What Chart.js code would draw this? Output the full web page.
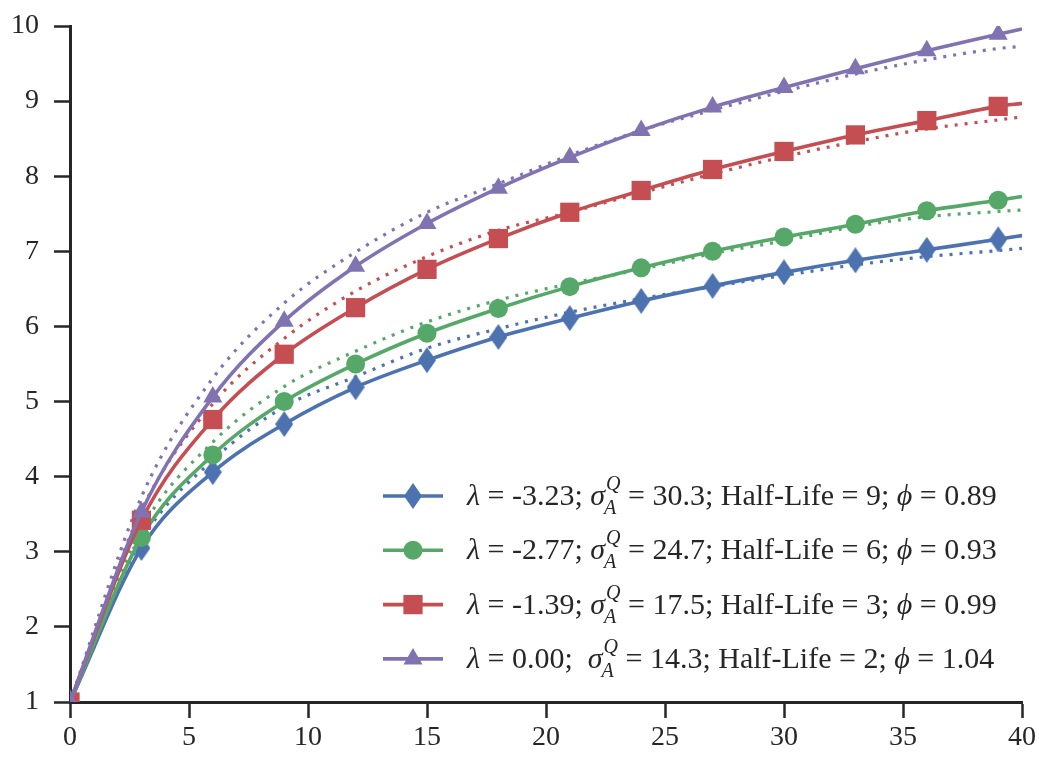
<!DOCTYPE html>
<html lang="en">
<head>
  <meta charset="UTF-8" />
  <title>Half-life curves</title>
  <script src="https://cdn.jsdelivr.net/npm/chart.js"></script>
  <style>
    html, body { margin: 0; padding: 0; background: #fff; }
    #wrap { width: 1039px; height: 759px; }
  </style>
</head>
<body>
  <div id="wrap"><canvas id="chart" width="1039" height="759"></canvas></div>

  <script>
    // horizon values (markers sit on every third one, the last point only closes the line)
    const horizons = [0, 3, 6, 9, 12, 15, 18, 21, 24, 27, 30, 33, 36, 39, 40];

    // solid lines
    const blueSolid   = [1, 3.05, 4.06, 4.70, 5.19, 5.55, 5.86, 6.11, 6.34, 6.54, 6.72, 6.88, 7.02, 7.16, 7.21];
    const greenSolid  = [1, 3.19, 4.29, 5.00, 5.50, 5.91, 6.24, 6.53, 6.78, 7.00, 7.19, 7.36, 7.54, 7.68, 7.73];
    const redSolid    = [1, 3.42, 4.76, 5.63, 6.25, 6.76, 7.17, 7.52, 7.81, 8.09, 8.33, 8.55, 8.74, 8.93, 8.97];
    const purpleSolid = [1, 3.53, 5.06, 6.07, 6.80, 7.37, 7.84, 8.25, 8.61, 8.92, 9.18, 9.43, 9.67, 9.89, 9.96];

    // dotted lines
    const blueDotted   = [1, 3.15, 4.22, 4.93, 5.33, 5.71, 5.97, 6.19, 6.37, 6.53, 6.68, 6.82, 6.93, 7.01, 7.04];
    const greenDotted  = [1, 3.30, 4.46, 5.20, 5.67, 6.06, 6.35, 6.57, 6.76, 6.97, 7.14, 7.33, 7.46, 7.53, 7.55];
    const redDotted    = [1, 3.55, 4.97, 5.84, 6.47, 6.93, 7.28, 7.52, 7.78, 8.03, 8.26, 8.46, 8.63, 8.75, 8.79];
    const purpleDotted = [1, 3.73, 5.31, 6.31, 6.99, 7.52, 7.90, 8.28, 8.61, 8.88, 9.13, 9.36, 9.55, 9.70, 9.73];

    // legend pieces
    const lambdas   = ['-3.23', '-2.77', '-1.39', '0.00'];
    const sigmas    = ['30.3', '24.7', '17.5', '14.3'];
    const halfLives = ['9', '6', '3', '2'];
    const phis      = ['0.89', '0.93', '0.99', '1.04'];

    const xTicks = [0, 5, 10, 15, 20, 25, 30, 35, 40];
    const yTicks = [1, 2, 3, 4, 5, 6, 7, 8, 9, 10];

    const colors = ['#4c72b0', '#55a868', '#c44e52', '#8172b2'];
    const FONT = "'Liberation Serif', 'DejaVu Serif', serif";
    const AXIS = '#262626';

    // thin diamond marker (matplotlib style 'd')
    function thinDiamond(color, w, h) {
      const c = document.createElement('canvas');
      c.width = w; c.height = h;
      const g = c.getContext('2d');
      g.fillStyle = color;
      g.beginPath();
      g.moveTo(w / 2, 0);
      g.lineTo(w, h / 2);
      g.lineTo(w / 2, h);
      g.lineTo(0, h / 2);
      g.closePath();
      g.fill();
      return c;
    }

    const markers = [
      { style: thinDiamond(colors[0], 18, 26), r: 10 },
      { style: 'circle', r: 9.5 },
      { style: 'rect', r: 13.6 },
      { style: 'triangle', r: 11 }
    ];

    const solids = [blueSolid, greenSolid, redSolid, purpleSolid];
    const dotteds = [blueDotted, greenDotted, redDotted, purpleDotted];

    const toPts = arr => horizons.map((x, i) => ({ x: x, y: arr[i] }));

    const datasets = [];
    dotteds.forEach((d, i) => {
      datasets.push({
        data: toPts(d),
        borderColor: colors[i],
        borderWidth: 3.2,
        borderDash: [3, 7],
        borderCapStyle: 'butt',
        pointRadius: 0,
        cubicInterpolationMode: 'monotone',
        order: 10 - i
      });
    });
    solids.forEach((d, i) => {
      datasets.push({
        data: toPts(d),
        borderColor: colors[i],
        backgroundColor: colors[i],
        borderWidth: 3.6,
        pointStyle: markers[i].style,
        pointRadius: horizons.map(x => x % 3 === 0 ? markers[i].r : 0),
        pointBorderWidth: 0,
        cubicInterpolationMode: 'monotone',
        order: 5 - i
      });
    });

    // writes runs of text, italic symbols and the stacked sigma scripts
    function drawLegendText(ctx, i, x, y) {
      const size = 30, small = 20;
      const reg = size + 'px ' + FONT;
      const ita = 'italic ' + size + 'px ' + FONT;
      const itaSmall = 'italic ' + small + 'px ' + FONT;
      const gap = lambdas[i] === '0.00' ? ';  ' : '; ';
      const runs = [
        { t: 'λ', f: ita },
        { t: ' = ' + lambdas[i] + gap, f: reg },
        { t: 'σ', f: ita },
        { script: true },
        { t: ' = ' + sigmas[i] + '; Half-Life = ' + halfLives[i] + '; ', f: reg },
        { t: 'ϕ', f: ita },
        { t: ' = ' + phis[i], f: reg }
      ];
      ctx.fillStyle = '#262626';
      ctx.textBaseline = 'alphabetic';
      ctx.textAlign = 'left';
      runs.forEach(r => {
        if (r.script) {
          ctx.font = itaSmall;
          ctx.fillText('Q', x + 1, y - 15);
          ctx.fillText('A', x - 1, y + 9);
          x += Math.max(ctx.measureText('Q').width, ctx.measureText('A').width) + 1;
          return;
        }
        ctx.font = r.f;
        ctx.fillText(r.t, x, y);
        x += ctx.measureText(r.t).width;
      });
    }

    const insideLegend = {
      id: 'insideLegend',
      afterDraw(chart) {
        const ctx = chart.ctx;
        const a = chart.chartArea;
        const x0 = a.left + 313, rowY = a.top + 470, step = 54.3;
        colors.forEach((c, i) => {
          const y = rowY + i * step;
          ctx.save();
          ctx.strokeStyle = c;
          ctx.lineWidth = 3.6;
          ctx.beginPath();
          ctx.moveTo(x0, y);
          ctx.lineTo(x0 + 60, y);
          ctx.stroke();
          ctx.fillStyle = c;
          ctx.strokeStyle = c;
          Chart.helpers.drawPoint(ctx, {
            pointStyle: markers[i].style, radius: markers[i].r, rotation: 0, borderWidth: 0
          }, x0 + 30, y);
          drawLegendText(ctx, i, x0 + 84, y + 9);
          ctx.restore();
        });
      }
    };

    new Chart(document.getElementById('chart'), {
      type: 'line',
      data: { datasets: datasets },
      options: {
        responsive: false,
        animation: false,
        events: [],
        layout: { padding: { left: 0, right: 17, top: 26, bottom: 0 } },
        plugins: { legend: { display: false }, tooltip: { enabled: false } },
        scales: {
          x: {
            type: 'linear',
            min: 0, max: 40,
            afterBuildTicks: s => { s.ticks = xTicks.map(v => ({ value: v })); },
            afterFit: s => { s.height = 57; },
            ticks: { color: '#262626', font: { family: FONT, size: 28 }, padding: 3 },
            grid: { drawOnChartArea: false, tickLength: 16, tickWidth: 2.5, tickColor: AXIS },
            border: { display: true, color: AXIS, width: 3 }
          },
          y: {
            type: 'linear',
            min: 1, max: 10,
            afterBuildTicks: s => { s.ticks = yTicks.map(v => ({ value: v })); },
            afterFit: s => { s.width = 70; s.paddingTop = 0; s.paddingBottom = 0; },
            ticks: { color: '#262626', font: { family: FONT, size: 28 }, padding: 15 },
            grid: { drawOnChartArea: false, tickLength: 16, tickWidth: 2.5, tickColor: AXIS },
            border: { display: true, color: AXIS, width: 3 }
          }
        }
      },
      plugins: [insideLegend]
    });
  </script>
</body>
</html>
